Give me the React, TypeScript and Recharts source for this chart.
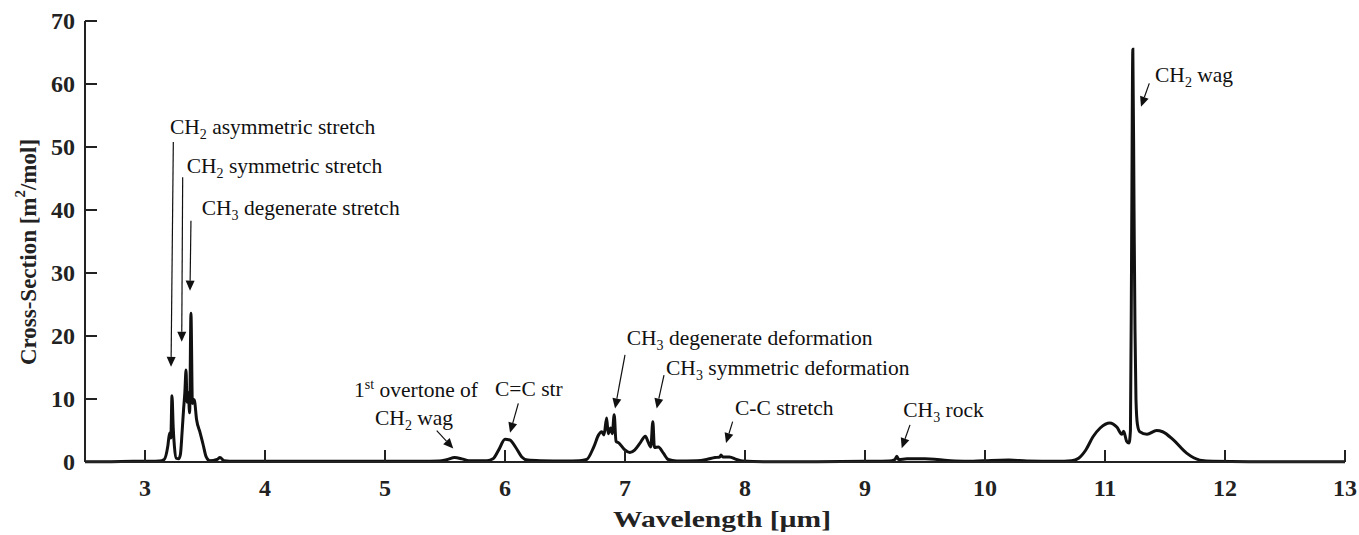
import React from 'react';
import { LineChart, Line, XAxis, YAxis, ReferenceLine, ReferenceDot } from 'recharts';

// wavelength in µm
const wavelength = [
  2.5, 2.7, 2.9, 3.05, 3.12, 3.16, 3.19, 3.205, 3.215, 3.225, 3.235, 3.245, 3.26, 3.28, 3.295,
  3.31, 3.322, 3.332, 3.342, 3.35, 3.36, 3.372, 3.383, 3.395, 3.41, 3.43, 3.46, 3.485, 3.51, 3.54,
  3.6, 3.625, 3.66, 3.75, 4.0, 4.5, 5.0, 5.3, 5.45, 5.52, 5.58, 5.64, 5.7, 5.85, 5.9,
  5.95, 6.0, 6.04, 6.09, 6.14, 6.19, 6.3, 6.5, 6.62, 6.68, 6.74, 6.78, 6.805, 6.825, 6.847,
  6.86, 6.88, 6.894, 6.91, 6.925, 6.95, 7.0, 7.04, 7.08, 7.125, 7.17, 7.19, 7.215, 7.232, 7.245,
  7.278, 7.32, 7.36, 7.43, 7.6, 7.68, 7.75, 7.79, 7.8, 7.815, 7.87, 7.93, 7.98, 8.2, 8.6,
  9.0, 9.2, 9.25, 9.265, 9.28, 9.35, 9.5, 9.6, 9.75, 9.9, 10.05, 10.2, 10.35, 10.6, 10.72,
  10.78, 10.84, 10.9, 10.96, 11.04, 11.1, 11.14, 11.155, 11.18, 11.2, 11.212, 11.222, 11.232, 11.242, 11.25,
  11.258, 11.27, 11.29, 11.35, 11.43, 11.48, 11.57, 11.68, 11.79, 11.9, 12.2, 13.0,
];

// cross-section in m^2/mol
const crossSection = [
  0.05, 0.05, 0.1, 0.1, 0.15, 0.4, 2.5, 4.6, 3.8, 10.5, 5.5, 2.5, 0.6, 0.5, 1.2,
  5.0, 8.5, 11.0, 14.6, 9.5, 11.0, 7.8, 23.6, 9.3, 9.9, 6.7, 4.6, 2.7, 0.8, 0.2,
  0.4, 0.7, 0.2, 0.1, 0.1, 0.1, 0.1, 0.1, 0.15, 0.4, 0.7, 0.5, 0.2, 0.2, 0.5,
  2.0, 3.6, 3.5, 2.3, 0.8, 0.3, 0.2, 0.15, 0.2, 0.4, 2.4, 4.3, 4.8, 4.3, 7.0,
  4.5, 5.4, 4.5, 7.5, 3.3, 3.0, 1.9, 1.5, 1.9, 3.0, 4.1, 3.3, 2.4, 6.4, 2.3,
  2.4, 1.4, 0.4, 0.15, 0.2, 0.4, 0.7, 0.8, 1.1, 0.8, 0.8, 0.4, 0.15, 0.05, 0.05,
  0.1, 0.15, 0.4, 0.9, 0.4, 0.5, 0.5, 0.4, 0.15, 0.1, 0.25, 0.3, 0.15, 0.1, 0.2,
  0.6, 1.9, 4.0, 5.4, 6.2, 5.5, 4.4, 4.9, 3.3, 3.0, 5.0, 35, 65.5, 40, 21,
  10, 6, 4.8, 4.4, 5.0, 4.8, 3.5, 1.4, 0.3, 0.1, 0.05, 0.05,
];

const xTicks = [3, 4, 5, 6, 7, 8, 9, 10, 11, 12, 13];
const yTicks = [0, 10, 20, 30, 40, 50, 60, 70];

type Part = { t: string; k?: 'sub' | 'sup' };

// band labels: text anchor (left, baseline) and arrow from -> to, in data units
const annotations: { parts: Part[]; at: [number, number]; from?: [number, number]; to?: [number, number] }[] = [
  { parts: [{ t: 'CH' }, { t: '2', k: 'sub' }, { t: ' asymmetric stretch' }], at: [3.208, 52.1], from: [3.236, 50.8], to: [3.217, 15.1] },
  { parts: [{ t: 'CH' }, { t: '2', k: 'sub' }, { t: ' symmetric stretch' }], at: [3.347, 45.9], from: [3.314, 45.2], to: [3.306, 19.1] },
  { parts: [{ t: 'CH' }, { t: '3', k: 'sub' }, { t: ' degenerate stretch' }], at: [3.472, 39.2], from: [3.383, 38.3], to: [3.375, 27.2] },
  { parts: [{ t: '1' }, { t: 'st', k: 'sup' }, { t: ' overtone of' }], at: [4.742, 10.3] },
  { parts: [{ t: 'CH' }, { t: '2', k: 'sub' }, { t: ' wag' }], at: [4.917, 5.9], from: [5.431, 4.97], to: [5.569, 2.16] },
  { parts: [{ t: 'C=C str' }], at: [5.917, 10.5], from: [6.111, 9.3], to: [6.042, 4.65] },
  { parts: [{ t: 'CH' }, { t: '3', k: 'sub' }, { t: ' degenerate deformation' }], at: [7.014, 18.6], from: [7.0, 17.0], to: [6.917, 8.5] },
  { parts: [{ t: 'CH' }, { t: '3', k: 'sub' }, { t: ' symmetric deformation' }], at: [7.342, 13.8], from: [7.325, 13.8], to: [7.264, 8.5] },
  { parts: [{ t: 'C-C stretch' }], at: [7.917, 7.5], from: [7.897, 6.4], to: [7.842, 3.0] },
  { parts: [{ t: 'CH' }, { t: '3', k: 'sub' }, { t: ' rock' }], at: [9.319, 7.1], from: [9.375, 5.9], to: [9.306, 2.2] },
  { parts: [{ t: 'CH' }, { t: '2', k: 'sub' }, { t: ' wag' }], at: [11.417, 60.3], from: [11.369, 60.1], to: [11.30, 56.4] },
];

const data = wavelength.map((w, i) => ({ w, cs: crossSection[i] }));

const serif = '"Liberation Serif", "Times New Roman", serif';
const tickStyle = { fontFamily: serif, fontWeight: 700, fontSize: 24, fill: '#222' };
const titleStyle = { fontFamily: serif, fontWeight: 700, fontSize: 23, fill: '#222' };
const annStyle = { fontFamily: serif, fontSize: 21.5, fill: '#111' };

function RichText({ x, y, parts }: { x: number; y: number; parts: Part[] }) {
  let shift = 0;
  return (
    <text x={x} y={y} style={annStyle}>
      {parts.map((p, i) => {
        const target = p.k === 'sub' ? 5 : p.k === 'sup' ? -8 : 0;
        const dy = target - shift;
        shift = target;
        return (
          <tspan key={i} dy={dy} fontSize={p.k ? 14 : undefined}>
            {p.t}
          </tspan>
        );
      })}
    </text>
  );
}

const Arrow = (props: any) => {
  const { x1, y1, x2, y2 } = props;
  const a = Math.atan2(y2 - y1, x2 - x1);
  const len = 10;
  const half = 4.5;
  const bx = x2 - len * Math.cos(a);
  const by = y2 - len * Math.sin(a);
  const px = -Math.sin(a) * half;
  const py = Math.cos(a) * half;
  return (
    <g>
      <line x1={x1} y1={y1} x2={bx} y2={by} stroke="#111" strokeWidth={1.2} />
      <polygon points={`${x2},${y2} ${bx + px},${by + py} ${bx - px},${by - py}`} fill="#111" />
    </g>
  );
};

const BottomTick = (props: any) => {
  const { x, y, payload } = props;
  return (
    <g>
      <line x1={x} y1={y} x2={x} y2={y - 12} stroke="#222" strokeWidth={2} />
      <text x={x} y={y + 34} textAnchor="middle" style={tickStyle}>
        {payload.value}
      </text>
    </g>
  );
};

const TopTick = (props: any) => {
  const { x, y } = props;
  return <line x1={x} y1={y} x2={x} y2={y + 12} stroke="#222" strokeWidth={2} />;
};

const LeftTick = (props: any) => {
  const { x, y, payload } = props;
  return (
    <g>
      <line x1={x} y1={y} x2={x + 12} y2={y} stroke="#222" strokeWidth={2} />
      <text x={x - 10} y={y} dy="0.34em" textAnchor="end" style={tickStyle}>
        {payload.value}
      </text>
    </g>
  );
};

const RightTick = (props: any) => {
  const { x, y } = props;
  return <line x1={x} y1={y} x2={x - 12} y2={y} stroke="#222" strokeWidth={2} />;
};

export default function App() {
  return (
    <div style={{ position: 'absolute', left: 0, top: 0, background: '#fff' }}>
      <LineChart width={1359} height={535} data={data} margin={{ top: 21, right: 14, bottom: 33, left: 25 }}>
        <XAxis
          dataKey="w"
          type="number"
          domain={[2.5, 13]}
          ticks={xTicks}
          allowDataOverflow
          height={40}
          tickSize={0}
          tickMargin={0}
          tickLine={false}
          axisLine={{ stroke: '#222', strokeWidth: 2 }}
          tick={<BottomTick />}
          interval={0}
          label={{
            content: () => (
              <text
                x={722}
                y={527}
                textAnchor="middle"
                textLength={218}
                lengthAdjust="spacingAndGlyphs"
                style={titleStyle}
              >
                Wavelength [µm]
              </text>
            ),
          }}
        />
        <XAxis
          xAxisId="top"
          dataKey="w"
          type="number"
          orientation="top"
          domain={[2.5, 13]}
          ticks={xTicks.slice(0, -1)}
          height={0}
          tickSize={0}
          tickMargin={0}
          tickLine={false}
          axisLine={{ stroke: '#222', strokeWidth: 2 }}
          tick={<TopTick />}
          interval={0}
        />
        <YAxis
          type="number"
          domain={[0, 70]}
          ticks={yTicks}
          width={60}
          tickSize={0}
          tickMargin={0}
          tickLine={false}
          axisLine={{ stroke: '#222', strokeWidth: 2 }}
          tick={<LeftTick />}
          interval={0}
          label={{
            content: () => {
              const cx = 28;
              const cy = 252;
              return (
                <text
                  x={cx}
                  y={cy}
                  transform={`rotate(-90, ${cx}, ${cy})`}
                  textAnchor="middle"
                  dominantBaseline="central"
                  style={titleStyle}
                >
                  Cross-Section [m
                  <tspan dy={-8} fontSize={15}>2</tspan>
                  <tspan dy={8}>/mol]</tspan>
                </text>
              );
            },
          }}
        />
        <YAxis
          yAxisId="right"
          orientation="right"
          type="number"
          domain={[0, 70]}
          ticks={yTicks}
          width={0}
          tickSize={0}
          tickMargin={0}
          tickLine={false}
          axisLine={{ stroke: '#222', strokeWidth: 2 }}
          tick={<RightTick />}
          interval={0}
        />
        <Line
          type="monotone"
          dataKey="cs"
          stroke="#111"
          strokeWidth={3}
          dot={false}
          isAnimationActive={false}
        />
        {annotations
          .filter((a) => a.from && a.to)
          .map((a, i) => (
            <ReferenceLine
              key={`arr${i}`}
              segment={[
                { x: a.from![0], y: a.from![1] },
                { x: a.to![0], y: a.to![1] },
              ]}
              shape={Arrow}
              ifOverflow="visible"
            />
          ))}
        {annotations.map((a, i) => (
          <ReferenceDot
            key={`lab${i}`}
            x={a.at[0]}
            y={a.at[1]}
            ifOverflow="visible"
            shape={(p: any) => <RichText x={p.cx} y={p.cy} parts={a.parts} />}
          />
        ))}
      </LineChart>
    </div>
  );
}
